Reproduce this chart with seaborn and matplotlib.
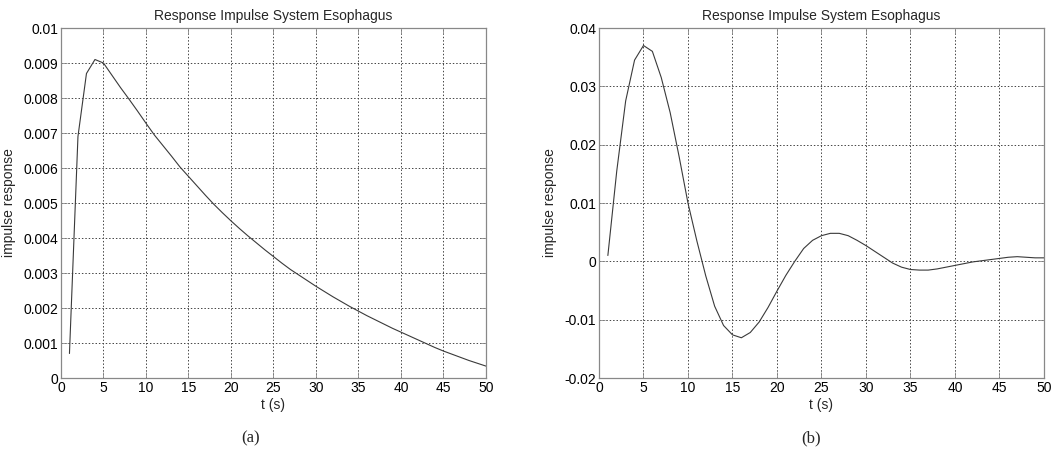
import numpy as np
import pandas as pd
import matplotlib
matplotlib.use("Agg")
import matplotlib.pyplot as plt
import seaborn as sns

t = list(range(1, 51))

resp_a = [0.0007, 0.0069, 0.0087, 0.0091, 0.0090, 0.00865, 0.0083, 0.00797, 0.00763, 0.00728,
          0.00694, 0.00664, 0.00634, 0.00603, 0.00576, 0.00549, 0.00522, 0.00496, 0.00472, 0.00449,
          0.00427, 0.00406, 0.00386, 0.00366, 0.00347, 0.00328, 0.00310, 0.00294, 0.00278, 0.00262,
          0.00247, 0.00232, 0.00218, 0.00204, 0.00191, 0.00178, 0.00166, 0.00154, 0.00142, 0.00131,
          0.00120, 0.00109, 0.00098, 0.00087, 0.00077, 0.00068, 0.00059, 0.00050, 0.00042, 0.00034]

resp_b = [0.0010, 0.0155, 0.0275, 0.0345, 0.0370, 0.0360, 0.0315, 0.0255, 0.0180, 0.0100,
          0.0035, -0.0025, -0.0077, -0.0110, -0.0126, -0.0131, -0.0122, -0.0104, -0.0079, -0.0051,
          -0.0024, 0.0000, 0.0022, 0.0036, 0.0044, 0.0048, 0.0048, 0.0044, 0.0036, 0.0027,
          0.0017, 0.0007, -0.0003, -0.0010, -0.0014, -0.0015, -0.0015, -0.0013, -0.0010, -0.0007,
          -0.0004, -0.0001, 0.0001, 0.0003, 0.0005, 0.0007, 0.0008, 0.0007, 0.0006, 0.0006]

x_ticks = [0, 5, 10, 15, 20, 25, 30, 35, 40, 45, 50]
y_ticks_a = [0, 0.001, 0.002, 0.003, 0.004, 0.005, 0.006, 0.007, 0.008, 0.009, 0.01]
y_labels_a = ["0", "0.001", "0.002", "0.003", "0.004", "0.005", "0.006", "0.007", "0.008", "0.009", "0.01"]
y_ticks_b = [-0.02, -0.01, 0, 0.01, 0.02, 0.03, 0.04]
y_labels_b = ["-0.02", "-0.01", "0", "0.01", "0.02", "0.03", "0.04"]

title = "Response Impulse System Esophagus"
xlabel = "t (s)"
ylabel = "impulse response"
panel_labels = ["(a)", "(b)"]

sns.set_style("white")
plt.rcParams["font.family"] = ["Liberation Sans", "DejaVu Sans"]

fig = plt.figure(figsize=(10.51, 4.54), dpi=100)
ax1 = fig.add_axes([0.058, 0.1674, 0.4044, 0.7709])
ax2 = fig.add_axes([0.5699, 0.1674, 0.4234, 0.7709])

df_a = pd.DataFrame({"t": t, "y": resp_a})
df_b = pd.DataFrame({"t": t, "y": resp_b})

for ax, df, yt, yl in [(ax1, df_a, y_ticks_a, y_labels_a),
                       (ax2, df_b, y_ticks_b, y_labels_b)]:
    sns.lineplot(data=df, x="t", y="y", ax=ax, color="#3a3a3a", linewidth=0.8)
    ax.set_xlim(0, 50)
    ax.set_ylim(yt[0], yt[-1])
    ax.set_xticks(x_ticks)
    ax.set_xticklabels([str(v) for v in x_ticks])
    ax.set_yticks(yt)
    ax.set_yticklabels(yl)
    ax.grid(True, color="#444444", linestyle=(0, (1.5, 2)), linewidth=0.7)
    ax.tick_params(direction="in", length=4, width=0.6, colors="#888888",
                   labelcolor="black", labelsize=10, top=True, right=True,
                   bottom=True, left=True, pad=2)
    for s in ax.spines.values():
        s.set_color("#888888")
        s.set_linewidth(0.9)
    ax.set_title(title, fontsize=10, pad=6)
    ax.set_xlabel(xlabel, fontsize=10, labelpad=2)
    ax.set_ylabel(ylabel, fontsize=10, labelpad=5)

fig.text(0.238, 0.025, panel_labels[0], fontsize=12, family="Liberation Serif", ha="center")
fig.text(0.7716, 0.025, panel_labels[1], fontsize=12, family="Liberation Serif", ha="center")

fig.savefig("out.png", dpi=100)
